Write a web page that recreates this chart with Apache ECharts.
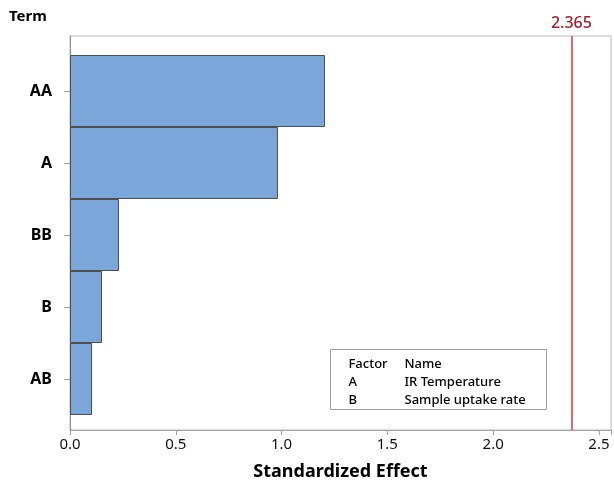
<!DOCTYPE html>
<html>
<head>
<meta charset="utf-8">
<script src="https://cdn.jsdelivr.net/npm/echarts@6/dist/echarts.min.js"></script>
<style>html,body{margin:0;padding:0;background:#fff}#c{width:614px;height:486px}</style>
</head>
<body>
<div id="c"></div>
<script>
const terms = ['AA', 'A', 'BB', 'B', 'AB'];
const effects = [1.203, 0.981, 0.231, 0.151, 0.104];
const criticalValue = 2.365;
const xTicks = [0, 0.5, 1.0, 1.5, 2.0, 2.5];
const factorCodes = ['A', 'B'];
const factorNames = ['IR Temperature', 'Sample uptake rate'];

const FONT = '"Noto Sans", "Open Sans", sans-serif';
const chart = echarts.init(document.getElementById('c'), null, {renderer: 'canvas'});

const legendChildren = [
  {type: 'rect', shape: {x: 0, y: 0, width: 216, height: 60}, style: {fill: '#fff', stroke: '#a0a0a0', lineWidth: 1}},
  {type: 'text', x: 18, y: 15, style: {text: 'Factor', font: '500 13px ' + FONT, fill: '#000', textVerticalAlign: 'middle'}},
  {type: 'text', x: 74, y: 15, style: {text: 'Name', font: '500 13px ' + FONT, fill: '#000', textVerticalAlign: 'middle'}}
];
factorCodes.forEach((c, i) => {
  legendChildren.push({type: 'text', x: 18, y: 33 + i * 18, style: {text: c, font: '500 13px ' + FONT, fill: '#000', textVerticalAlign: 'middle'}});
  legendChildren.push({type: 'text', x: 74, y: 33 + i * 18, style: {text: factorNames[i], font: '500 13px ' + FONT, fill: '#000', textVerticalAlign: 'middle'}});
});

const option = {
  animation: false,
  backgroundColor: '#fff',
  textStyle: {fontFamily: FONT},
  grid: [
    {left: 70, top: 36, right: 2, bottom: 52, show: true, borderColor: '#b8b8b8', borderWidth: 1, backgroundColor: 'transparent'},
    {left: 70, top: 55, right: 2, bottom: 71}
  ],
  xAxis: [
    {
      type: 'value', gridIndex: 0, min: 0, max: 2.557, interval: 0.5,
      name: 'Standardized Effect', nameLocation: 'middle', nameGap: 33,
      nameTextStyle: {fontSize: 18, fontWeight: 'bold', color: '#000', fontFamily: FONT},
      axisLine: {show: true, lineStyle: {color: '#a0a0a0', width: 1}},
      axisTick: {show: true, length: 5, lineStyle: {color: '#a0a0a0'}},
      axisLabel: {fontSize: 15, color: '#111', margin: 7, fontFamily: FONT,
        formatter: v => xTicks.some(t => Math.abs(t - v) < 1e-9) ? v.toFixed(1) : ''},
      splitLine: {show: false}
    },
    {
      type: 'value', gridIndex: 1, min: 0, max: 2.557, show: false, splitLine: {show: false}
    }
  ],
  yAxis: [
    {
      type: 'value', gridIndex: 0, min: 0, max: 1,
      axisLine: {show: true, onZero: false, lineStyle: {color: '#909090', width: 1}},
      axisTick: {show: false}, axisLabel: {show: false}, splitLine: {show: false}
    },
    {
      type: 'category', gridIndex: 1, data: terms, inverse: true,
      axisLine: {show: false},
      axisTick: {show: true, alignWithLabel: true, length: 6, lineStyle: {color: '#a0a0a0'}},
      axisLabel: {fontSize: 16, fontWeight: 'bold', color: '#000', margin: 18, fontFamily: FONT},
      splitLine: {show: false}
    }
  ],
  series: [
    {
      type: 'bar', xAxisIndex: 1, yAxisIndex: 1, data: effects,
      barCategoryGap: 0,
      itemStyle: {color: '#7ba6d9', borderColor: '#4d4d4d', borderWidth: 1}
    },
    {
      type: 'line', xAxisIndex: 0, yAxisIndex: 0, data: [],
      markLine: {
        silent: true, symbol: ['none', 'none'],
        lineStyle: {color: '#d9363e', width: 1.5, type: 'solid'},
        label: {show: true, position: 'end', formatter: String(criticalValue), color: '#a3202a', fontSize: 16, fontWeight: 500, fontFamily: FONT, distance: 5},
        data: [{xAxis: criticalValue}]
      }
    }
  ],
  graphic: [
    {type: 'text', left: 9, top: 9, style: {text: 'Term', font: 'bold 15px ' + FONT, fill: '#000'}},
    {type: 'group', left: 330, top: 349, children: legendChildren}
  ]
};
chart.setOption(option);
</script>
</body>
</html>
